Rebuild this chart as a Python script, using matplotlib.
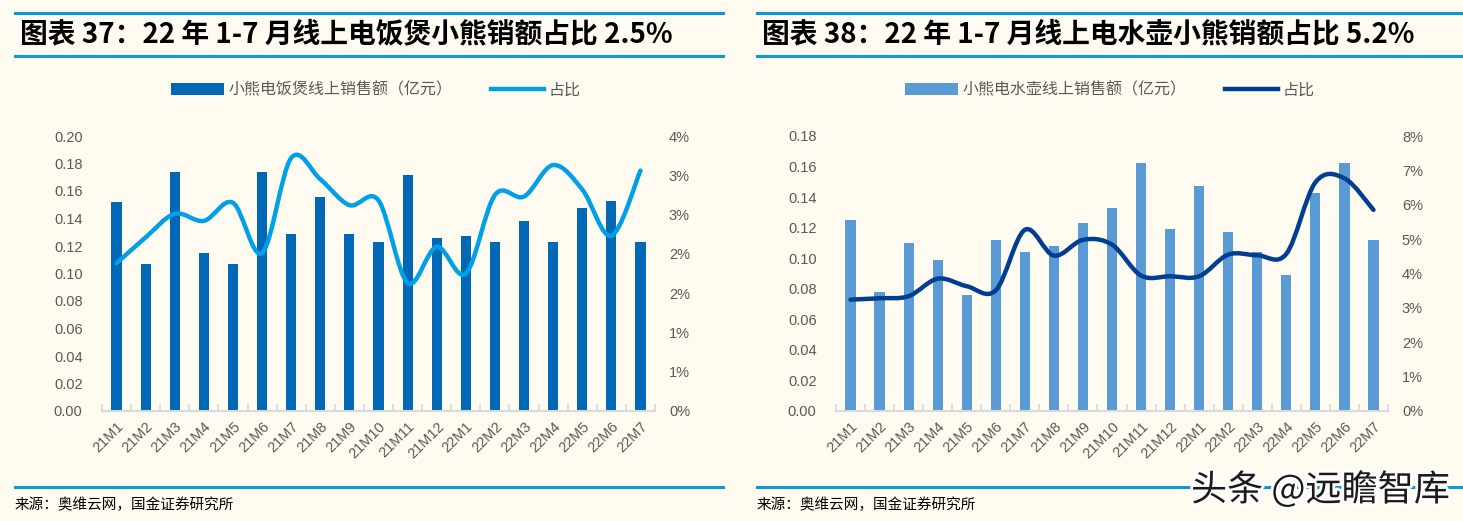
import numpy as np
import matplotlib
matplotlib.use("Agg")
import matplotlib.pyplot as plt
from matplotlib.path import Path
from matplotlib.patches import PathPatch, Patch
from matplotlib.lines import Line2D
from matplotlib.ticker import FuncFormatter, MultipleLocator
import matplotlib.patheffects as pe

plt.rcParams['font.family'] = ['Noto Sans CJK SC', 'DejaVu Sans']

months = ['21M1', '21M2', '21M3', '21M4', '21M5', '21M6', '21M7', '21M8', '21M9', '21M10',
          '21M11', '21M12', '22M1', '22M2', '22M3', '22M4', '22M5', '22M6', '22M7']

cooker_sales = [0.152, 0.107, 0.174, 0.115, 0.107, 0.174, 0.129, 0.156, 0.129, 0.123,
                0.172, 0.126, 0.127, 0.123, 0.138, 0.123, 0.148, 0.153, 0.123]
cooker_share = [1.88, 2.21, 2.51, 2.42, 2.65, 2.01, 3.22, 2.95, 2.62, 2.68,
                1.63, 2.09, 1.75, 2.75, 2.73, 3.13, 2.82, 2.23, 3.06]  # %

kettle_sales = [0.125, 0.078, 0.110, 0.099, 0.076, 0.112, 0.104, 0.108, 0.123, 0.133,
                0.162, 0.119, 0.147, 0.117, 0.104, 0.089, 0.143, 0.162, 0.112]
kettle_share = [3.24, 3.28, 3.34, 3.85, 3.63, 3.51, 5.27, 4.52, 4.98, 4.84,
                3.94, 3.92, 3.92, 4.55, 4.53, 4.57, 6.65, 6.77, 5.85]  # %

titles = ['图表 37：22 年 1-7 月线上电饭煲小熊销额占比 2.5%',
          '图表 38：22 年 1-7 月线上电水壶小熊销额占比 5.2%']
bar_labels = ['小熊电饭煲线上销售额（亿元）', '小熊电水壶线上销售额（亿元）']
line_label = '占比'
source = '来源：奥维云网，国金证券研究所'
watermark = '头条 @远瞻智库'

BG = '#FFFBF0'
TXT = '#595959'
RULE = '#0A9AD9'


def smooth_path(x, y):
    x = np.asarray(x, float)
    y = np.asarray(y, float)
    n = len(x)
    verts = [(x[0], y[0])]
    codes = [Path.MOVETO]
    for i in range(n - 1):
        p0 = np.array([x[max(i - 1, 0)], y[max(i - 1, 0)]])
        p1 = np.array([x[i], y[i]])
        p2 = np.array([x[i + 1], y[i + 1]])
        p3 = np.array([x[min(i + 2, n - 1)], y[min(i + 2, n - 1)]])
        c1 = p1 + (p2 - p0) / 6.0
        c2 = p2 - (p3 - p1) / 6.0
        verts += [tuple(c1), tuple(c2), tuple(p2)]
        codes += [Path.CURVE4] * 3
    return Path(verts, codes)


def pct_fmt(v, pos):
    return '%d%%' % int(np.floor(v + 0.5 + 1e-9))


fig = plt.figure(figsize=(14.63, 5.21), dpi=100, facecolor=BG)

panels = [
    dict(x0=102, x1=655, sales=cooker_sales, share=cooker_share, bar_c='#0068B5',
         line_c='#00A0E9', ymax=0.20, ystep=0.02, rmax=3.5, rstep=0.5,
         rule_x=(15, 723), title_x=20, leg_cx=376),
    dict(x0=836, x1=1388, sales=kettle_sales, share=kettle_share, bar_c='#5B9BD5',
         line_c='#003E92', ymax=0.18, ystep=0.02, rmax=8, rstep=1,
         rule_x=(757, 1461), title_x=762, leg_cx=1110),
]

W, H = 1463, 521
for k, p in enumerate(panels):
    ax = fig.add_axes([p['x0'] / W, 1 - 411 / H, (p['x1'] - p['x0']) / W, 275 / H])
    ax.set_facecolor('none')
    x = np.arange(len(months))
    ax.bar(x, p['sales'], width=0.35, color=p['bar_c'], zorder=2)
    ax.set_xlim(-0.5, len(months) - 0.5)
    ax.set_ylim(0, p['ymax'])
    ax.yaxis.set_major_locator(MultipleLocator(p['ystep']))
    ax.yaxis.set_major_formatter(FuncFormatter(lambda v, pos: '%.2f' % v))
    ax.set_xticks(x)
    ax.set_xticklabels(months, rotation=45, ha='right', rotation_mode='anchor',
                       fontsize=10.5, color=TXT, family=['Liberation Sans', 'DejaVu Sans'])
    ax.set_xticks(np.arange(-0.5, len(months)), minor=True)
    ax.tick_params(axis='x', which='major', length=0, pad=6)
    ax.tick_params(axis='x', which='minor', length=5, direction='in', color='#D9D9D9', width=1.2)
    ax.tick_params(axis='y', length=0, labelsize=10.5, labelcolor=TXT, pad=14)
    for lab in ax.get_yticklabels():
        lab.set_family(['Liberation Sans', 'DejaVu Sans'])
    for s in ['top', 'right', 'left']:
        ax.spines[s].set_visible(False)
    ax.spines['bottom'].set_color('#D9D9D9')
    ax.spines['bottom'].set_linewidth(1.5)

    ax2 = ax.twinx()
    ax2.set_ylim(0, p['rmax'])
    ax2.yaxis.set_major_locator(MultipleLocator(p['rstep']))
    ax2.yaxis.set_major_formatter(FuncFormatter(pct_fmt))
    ax2.tick_params(axis='y', length=0, labelsize=10.5, labelcolor=TXT, pad=10)
    for lab in ax2.get_yticklabels():
        lab.set_family(['Liberation Sans', 'DejaVu Sans'])
    for s in ['top', 'right', 'left', 'bottom']:
        ax2.spines[s].set_visible(False)
    ax2.add_patch(PathPatch(smooth_path(x, p['share']), facecolor='none',
                            edgecolor=p['line_c'], lw=3.2, capstyle='round', zorder=3))

    # title rules
    x0r, x1r = p['rule_x']
    for yy in (13, 56):
        fig.add_artist(Line2D([x0r / W, x1r / W], [1 - yy / H, 1 - yy / H],
                              color=RULE, lw=2.2))
    fig.add_artist(Line2D([x0r / W, x1r / W], [1 - 487 / H, 1 - 487 / H], color=RULE, lw=2.2))
    fig.text(p['title_x'] / W, 1 - 34 / H, titles[k], fontsize=20, fontweight='bold',
             ha='left', va='center', color='black')
    fig.text(x0r / W, 1 - 505 / H, source, fontsize=10.5, ha='left', va='center', color='black')

    handles = [Patch(facecolor=p['bar_c'], edgecolor='none'),
               Line2D([0], [0], color=p['line_c'], lw=3.2)]
    fig.legend(handles, [bar_labels[k], line_label], loc='center',
               bbox_to_anchor=(p['leg_cx'] / W, 1 - 90 / H), ncol=2, frameon=False,
               fontsize=11.5, labelcolor=TXT, handlelength=3.3, handleheight=0.7,
               handletextpad=0.3, columnspacing=2.4)

fig.text(1450 / W, 1 - 490 / H, watermark, fontsize=26, ha='right', va='center',
         color='#1a1a1a', path_effects=[pe.withStroke(linewidth=4, foreground='white')])

fig.savefig('out.png', dpi=100, facecolor=BG)
